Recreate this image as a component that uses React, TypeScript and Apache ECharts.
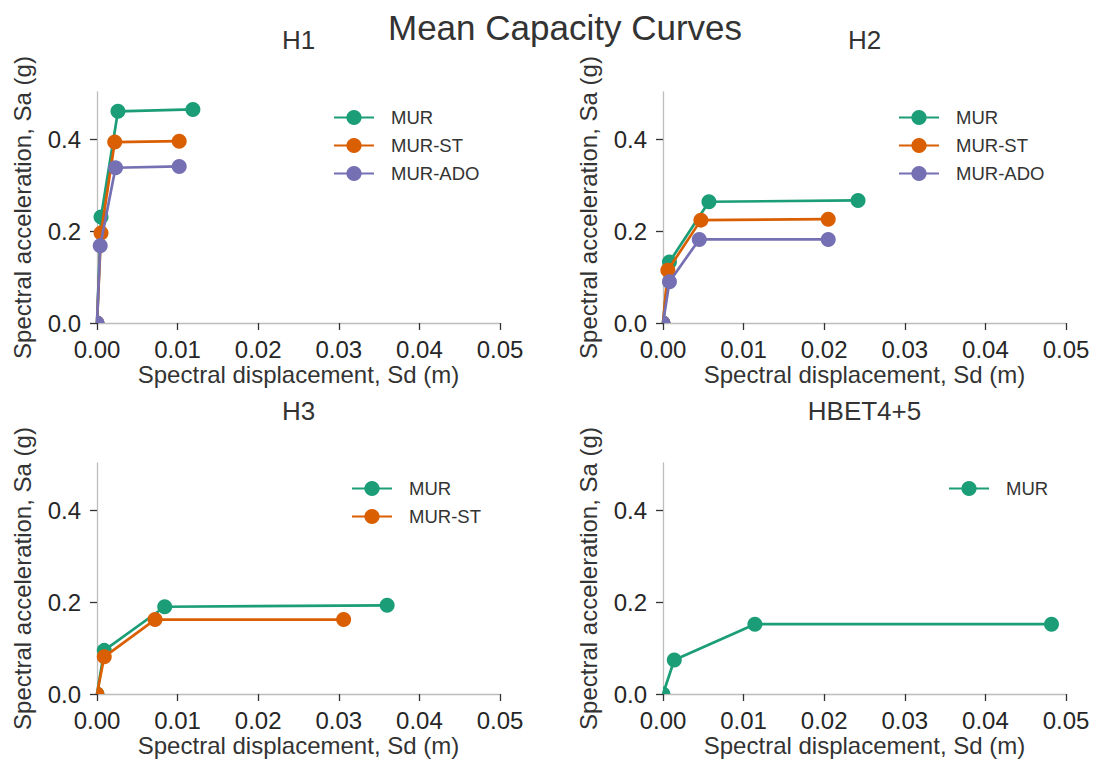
import React, { useEffect, useRef } from "react";
import * as echarts from "echarts";

const panelTitles = ["H1", "H2", "H3", "HBET4+5"];
const seriesNames = ["MUR", "MUR-ST", "MUR-ADO"];
const colors = ["#1b9e77", "#d95f02", "#7570b3"];

// H1 panel
const h1MUR = [[0, 0], [0.0005, 0.231], [0.0026, 0.461], [0.0119, 0.465]];
const h1ST = [[0, 0], [0.0005, 0.196], [0.0022, 0.394], [0.0102, 0.396]];
const h1ADO = [[0, 0], [0.0004, 0.168], [0.0023, 0.338], [0.0102, 0.341]];
// H2 panel
const h2MUR = [[0, 0], [0.0008, 0.133], [0.0057, 0.264], [0.0242, 0.267]];
const h2ST = [[0, 0], [0.0006, 0.115], [0.0047, 0.224], [0.0205, 0.226]];
const h2ADO = [[0, 0], [0.0008, 0.09], [0.0045, 0.182], [0.0205, 0.182]];
// H3 panel
const h3MUR = [[0, 0], [0.0009, 0.095], [0.0084, 0.19], [0.036, 0.193]];
const h3ST = [[0, 0], [0.0009, 0.081], [0.0072, 0.162], [0.0306, 0.162]];
// HBET4+5 panel
const h4MUR = [[0, 0], [0.0014, 0.074], [0.0114, 0.152], [0.0482, 0.152]];

const xTicks = [0, 0.01, 0.02, 0.03, 0.04, 0.05];
const yTicks = [0, 0.2, 0.4];

const panels = [
  [h1MUR, h1ST, h1ADO],
  [h2MUR, h2ST, h2ADO],
  [h3MUR, h3ST],
  [h4MUR],
];

const FONT = "Liberation Sans, Arial, sans-serif";
const MARKER = 15;
// quarter disc: a marker at the axes corner, clipped by the plot area
const QUARTER = "path://M0,10 L0,0 A10,10 0 0 1 10,10 Z";

export default function App() {
  const ref = useRef<HTMLDivElement>(null);
  useEffect(() => {
    if (!ref.current) return;
    const chart = echarts.init(ref.current, null, { renderer: "svg" });
    const lefts = [97, 663, 97, 663];
    const tops = [92, 92, 463, 463];
    const W = 403;
    const H = 231;

    const grids = lefts.map((l, i) => ({ left: l, top: tops[i], width: W, height: H }));
    const xAxes = lefts.map((_, i) => ({
      type: "value",
      gridIndex: i,
      min: 0,
      max: 0.05,
      interval: 0.01,
      name: "Spectral displacement, Sd (m)",
      nameLocation: "middle",
      nameGap: 39,
      nameTextStyle: { fontFamily: FONT, fontSize: 24, color: "#333" },
      splitLine: { show: false },
      axisLine: { show: true, onZero: false, lineStyle: { color: "#bdbdbd", width: 1.3 } },
      axisTick: { show: true, length: 7, lineStyle: { color: "#333", width: 1.3 }, customValues: xTicks },
      axisLabel: {
        fontFamily: FONT,
        fontSize: 24,
        color: "#262626",
        margin: 14,
        customValues: xTicks,
        formatter: (v: number) => v.toFixed(2),
      },
    }));
    const yAxes = lefts.map((_, i) => ({
      type: "value",
      gridIndex: i,
      min: 0,
      max: 0.503,
      name: "Spectral acceleration, Sa (g)",
      nameLocation: "middle",
      nameRotate: 90,
      nameGap: 63,
      nameTextStyle: { fontFamily: FONT, fontSize: 24, color: "#333" },
      splitLine: { show: false },
      axisLine: { show: true, onZero: false, lineStyle: { color: "#bdbdbd", width: 1.3 } },
      axisTick: { show: true, length: 7, lineStyle: { color: "#333", width: 1.3 }, customValues: yTicks },
      axisLabel: {
        fontFamily: FONT,
        fontSize: 24,
        color: "#262626",
        margin: 16,
        customValues: yTicks,
        formatter: (v: number) => v.toFixed(1),
      },
    }));

    const series: any[] = [];
    panels.forEach((p, i) => {
      p.forEach((data, j) => {
        series.push({
          type: "line",
          name: seriesNames[j],
          xAxisIndex: i,
          yAxisIndex: i,
          data: data.map((d) =>
            d[0] === 0 && d[1] === 0
              ? {
                  value: d,
                  symbol: QUARTER,
                  symbolSize: MARKER / 2,
                  symbolOffset: [MARKER / 4, -MARKER / 4],
                }
              : { value: d }
          ),
          color: colors[j],
          symbol: "circle",
          symbolSize: MARKER,
          showSymbol: true,
          lineStyle: { width: 2.7, color: colors[j] },
          itemStyle: { color: colors[j] },
          z: 2 + j,
        });
      });
    });

    const legendPos = [
      { left: 333, top: 108 },
      { left: 898, top: 108 },
      { left: 351, top: 479 },
      { left: 948, top: 479 },
    ];
    const legends = panels.map((p, i) => ({
      left: legendPos[i].left,
      top: legendPos[i].top,
      orient: "vertical",
      padding: 0,
      itemWidth: 40,
      itemHeight: 19,
      itemGap: 9,
      selectedMode: false,
      textStyle: { fontFamily: FONT, fontSize: 18.5, color: "#333", padding: [0, 0, 0, 12] },
      data: seriesNames.slice(0, p.length),
    }));

    const titles: any[] = [
      {
        text: "Mean Capacity Curves",
        left: 565,
        top: 10,
        padding: 0,
        textAlign: "center",
        textStyle: { fontFamily: FONT, fontSize: 35, fontWeight: "normal", color: "#333" },
      },
    ];
    panelTitles.forEach((t, i) => {
      titles.push({
        text: t,
        left: lefts[i] + W / 2,
        top: tops[i] - 65,
        padding: 0,
        textAlign: "center",
        textStyle: { fontFamily: FONT, fontSize: 26, fontWeight: "normal", color: "#333" },
      });
    });

    chart.setOption({
      animation: false,
      backgroundColor: "#ffffff",
      title: titles,
      grid: grids,
      xAxis: xAxes,
      yAxis: yAxes,
      legend: legends,
      series,
    });
    return () => chart.dispose();
  }, []);
  return (
    <div
      ref={ref}
      style={{ position: "absolute", left: 0, top: 0, width: 1096, height: 765 }}
    />
  );
}
